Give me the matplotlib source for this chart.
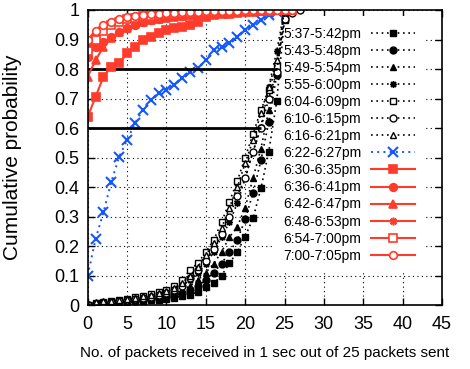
import numpy as np
import matplotlib
matplotlib.use("Agg")
import matplotlib.pyplot as plt

# packets received (x) for every series
x_black = list(range(0, 26))
x_long = list(range(0, 27))
x_longer = list(range(0, 28))

labels = ["5:37-5:42pm", "5:43-5:48pm", "5:49-5:54pm", "5:55-6:00pm",
          "6:04-6:09pm", "6:10-6:15pm", "6:16-6:21pm", "6:22-6:27pm",
          "6:30-6:35pm", "6:36-6:41pm", "6:42-6:47pm", "6:48-6:53pm",
          "6:54-7:00pm", "7:00-7:05pm"]

# early evening (black, dotted)
cdf_0537 = [0.0, 0.003, 0.005, 0.006, 0.008, 0.01, 0.012, 0.014, 0.016, 0.018,
            0.02, 0.025, 0.03, 0.035, 0.045, 0.06, 0.073, 0.1, 0.141, 0.18,
            0.232, 0.294, 0.395, 0.52, 0.69, 0.97, 1.0]
cdf_0543 = [0.0, 0.004, 0.006, 0.008, 0.01, 0.012, 0.014, 0.017, 0.02, 0.024,
            0.028, 0.033, 0.04, 0.05, 0.065, 0.085, 0.11, 0.14, 0.18, 0.22,
            0.29, 0.38, 0.49, 0.62, 0.78, 0.99, 1.0]
cdf_0549 = [0.0, 0.005, 0.008, 0.01, 0.012, 0.015, 0.018, 0.02, 0.024, 0.028,
            0.033, 0.04, 0.05, 0.065, 0.085, 0.11, 0.14, 0.18, 0.23, 0.265,
            0.33, 0.43, 0.53, 0.66, 0.8, 1.0, 1.0]
cdf_0555 = [0.0, 0.006, 0.009, 0.012, 0.015, 0.018, 0.021, 0.025, 0.03, 0.035,
            0.04, 0.05, 0.065, 0.085, 0.11, 0.14, 0.18, 0.23, 0.28, 0.345,
            0.43, 0.52, 0.604, 0.74, 0.86, 1.0, 1.0]
cdf_0604 = [0.0, 0.007, 0.01, 0.014, 0.018, 0.022, 0.026, 0.03, 0.036, 0.043,
            0.05, 0.065, 0.085, 0.119, 0.142, 0.18, 0.22, 0.28, 0.35, 0.42,
            0.5, 0.58, 0.66, 0.73, 0.81, 0.966, 1.0]
cdf_0610 = [0.0, 0.005, 0.008, 0.011, 0.014, 0.017, 0.02, 0.024, 0.028, 0.033,
            0.04, 0.05, 0.065, 0.09, 0.12, 0.15, 0.19, 0.24, 0.3, 0.37,
            0.43, 0.52, 0.6, 0.7, 0.79, 0.97, 0.99, 1.0]
cdf_0616 = [0.0, 0.01, 0.012, 0.015, 0.018, 0.021, 0.025, 0.03, 0.035, 0.04,
            0.047, 0.058, 0.075, 0.1, 0.13, 0.17, 0.21, 0.26, 0.33, 0.4,
            0.48, 0.56, 0.65, 0.74, 0.83, 1.0, 1.0]

# transition (blue)
cdf_0622 = [0.1, 0.224, 0.314, 0.418, 0.503, 0.559, 0.616, 0.661, 0.695, 0.718,
            0.729, 0.746, 0.769, 0.791, 0.802, 0.83, 0.864, 0.875, 0.887, 0.91,
            0.932, 0.949, 0.966, 0.983, 0.994, 1.0]

# later evening (red, solid)
cdf_0630 = [0.638, 0.706, 0.774, 0.808, 0.819, 0.853, 0.875, 0.898, 0.907, 0.921,
            0.932, 0.938, 0.943, 0.949, 0.96, 0.977, 0.983, 0.986, 0.988, 0.99,
            0.992, 0.994, 0.996, 0.998, 1.0, 1.0, 1.0]
cdf_0636 = [0.84, 0.875, 0.892, 0.909, 0.925, 0.94, 0.95, 0.958, 0.965, 0.97,
            0.975, 0.978, 0.981, 0.984, 0.986, 0.988, 0.99, 0.992, 0.993, 0.994,
            0.995, 0.996, 0.997, 0.998, 0.999, 1.0, 1.0]
cdf_0642 = [0.774, 0.83, 0.875, 0.905, 0.925, 0.94, 0.952, 0.96, 0.966, 0.97,
            0.974, 0.977, 0.98, 0.983, 0.985, 0.987, 0.99, 0.992, 0.993, 0.994,
            0.995, 0.996, 0.997, 0.998, 0.999, 1.0, 1.0]
cdf_0648 = [0.88, 0.92, 0.94, 0.955, 0.965, 0.97, 0.975, 0.978, 0.98, 0.982,
            0.984, 0.986, 0.988, 0.99, 0.991, 0.992, 0.993, 0.994, 0.995, 0.996,
            0.997, 0.998, 0.998, 0.999, 1.0, 1.0, 1.0]
cdf_0654 = [0.86, 0.9, 0.93, 0.95, 0.96, 0.968, 0.974, 0.978, 0.981, 0.984,
            0.986, 0.988, 0.99, 0.991, 0.992, 0.993, 0.994, 0.995, 0.996, 0.997,
            0.998, 0.998, 0.999, 0.999, 1.0, 1.0, 1.0]
cdf_0700 = [0.9, 0.93, 0.95, 0.96, 0.97, 0.975, 0.98, 0.983, 0.986, 0.988,
            0.99, 0.991, 0.992, 0.993, 0.994, 0.995, 0.996, 0.997, 0.998, 0.998,
            0.999, 0.999, 1.0, 1.0, 1.0, 1.0, 1.0]

x_ticks = [0, 5, 10, 15, 20, 25, 30, 35, 40, 45]
y_ticks = [0, 0.1, 0.2, 0.3, 0.4, 0.5, 0.6, 0.7, 0.8, 0.9, 1]
y_ticklabels = ["0", "0.1", "0.2", "0.3", "0.4", "0.5", "0.6", "0.7", "0.8", "0.9", "1"]

plt.rcParams["font.family"] = ["Liberation Sans", "DejaVu Sans"]

red = "#ff3b2b"
blue = "#1457ff"
dots = (0, (1, 2.2))

fig = plt.figure(figsize=(4.7, 3.69), dpi=100)
ax = fig.add_axes([0.1866, 0.1734, 0.7538, 0.7995])

black_series = [
    (x_black, cdf_0537, "s", "black"),
    (x_black, cdf_0543, "o", "black"),
    (x_black, cdf_0549, "^", "black"),
    (x_black, cdf_0555, (8, 2, 0), "black"),
    (x_long, cdf_0604, "s", "white"),
    (x_longer, cdf_0610, "o", "white"),
    (x_black, cdf_0616, "^", "white"),
]
handles = []
for i, (xs, ys, m, fc) in enumerate(black_series):
    ms = 4.5 if m == "^" and fc == "black" else 5
    h, = ax.plot(xs, ys[:len(xs)], color="black", ls=dots, lw=1.2, marker=m,
                 ms=ms, mfc=fc, mec="black", mew=1.0, label=labels[i], zorder=2)
    handles.append(h)

h, = ax.plot(x_black, cdf_0622, color=blue, ls=dots, lw=1.4, marker="x",
             ms=7, mew=1.5, label=labels[7], zorder=3)
handles.append(h)

red_series = [
    (cdf_0630, "s", red),
    (cdf_0636, "o", red),
    (cdf_0642, "^", red),
    (cdf_0648, (8, 2, 0), red),
    (cdf_0654, "s", "white"),
    (cdf_0700, "o", "white"),
]
for j, (ys, m, fc) in enumerate(red_series):
    h, = ax.plot(x_long, ys, color=red, ls="-", lw=1.5, marker=m, ms=5.5,
                 mfc=fc, mec=red, mew=1.2, label=labels[8 + j], zorder=4)
    handles.append(h)

# thick reference lines
ax.hlines([0.8], 0, 24, colors="black", lw=2, zorder=3)
ax.hlines([0.6], 0, 22, colors="black", lw=2, zorder=3)

ax.set_xlim(0, 45)
ax.set_ylim(0, 1)
ax.set_xticks(x_ticks)
ax.set_yticks(y_ticks)
ax.set_yticklabels(y_ticklabels)
ax.grid(True, color="black", ls=(0, (1, 3)), lw=0.8)
ax.set_axisbelow(True)
ax.tick_params(direction="in", top=True, right=True, length=5, width=1,
               labelsize=13)
ax.tick_params(axis="x", pad=8)
ax.tick_params(axis="y", pad=6)
for s in ax.spines.values():
    s.set_linewidth(1.2)
    s.set_zorder(5)

ax.set_xlabel("No. of packets received in 1 sec out of 25 packets sent",
              fontsize=11, labelpad=9)
ax.set_ylabel("Cumulative probability", fontsize=15, labelpad=23)

leg = ax.legend(handles=handles, loc="upper left", bbox_to_anchor=(0.522, 0.978),
                markerfirst=False, prop={"size": 10},
                frameon=True, fancybox=False, framealpha=1, edgecolor="none",
                facecolor="white", borderpad=0.75, borderaxespad=0,
                labelspacing=0.22, handlelength=3.15, handletextpad=0.7)
leg.set_zorder(1.5)

fig.savefig("out.png", dpi=100)
